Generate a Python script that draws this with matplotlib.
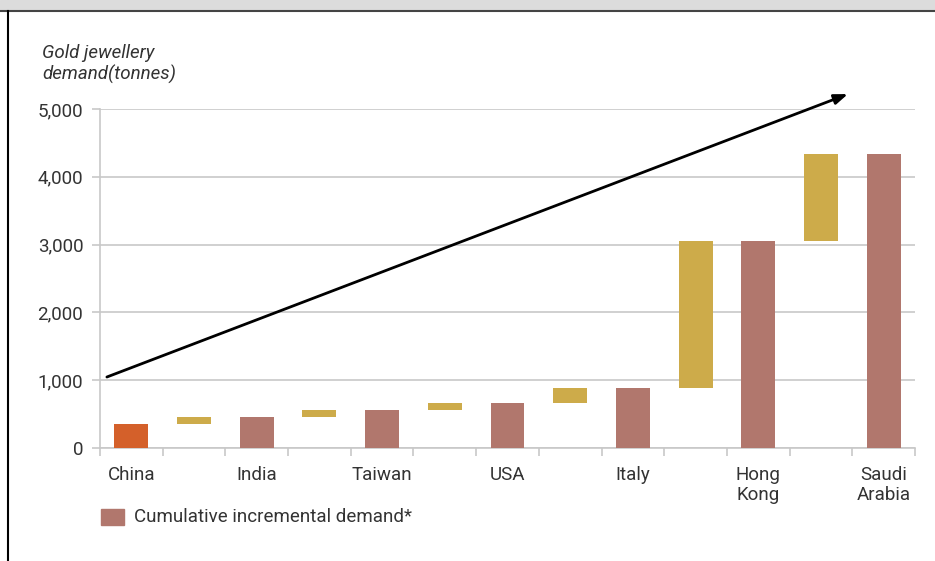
import matplotlib.pyplot as plt
from matplotlib.patches import Rectangle
from matplotlib.lines import Line2D

# cumulative totals after each country (tonnes)
countries = ['China', 'India', 'Taiwan', 'USA', 'Italy', 'Hong\nKong', 'Saudi\nArabia']
cumulative = [350, 450, 555, 660, 885, 3060, 4330]
first_color = '#d4602a'
total_color = '#b1776d'
step_color = '#cdab4a'
grid_color = '#c8c8c8'
text_color = '#333333'

plt.rcParams['font.family'] = ['Roboto', 'DejaVu Sans']

fig = plt.figure(figsize=(9.35, 5.61), dpi=100)
ax = fig.add_axes([100 / 935, 1 - 448 / 561, 815 / 935, (448 - 109) / 561])

# build the waterfall: total bar, then the step to the next total
pos = 0
labels_pos = []
for i, total in enumerate(cumulative):
    ax.bar(pos, total, width=0.54, color=first_color if i == 0 else total_color, zorder=3)
    labels_pos.append(pos)
    pos += 1
    if i < len(cumulative) - 1:
        nxt = cumulative[i + 1]
        ax.bar(pos, nxt - total, bottom=total, width=0.54, color=step_color, zorder=3)
        pos += 1

ax.set_xlim(-0.5, pos - 0.5)
ax.set_ylim(0, 5000)
ax.set_yticks(range(0, 5001, 1000))
ax.set_yticklabels(['{:,}'.format(v) for v in range(0, 5001, 1000)])
ax.yaxis.grid(True, color=grid_color, linewidth=1.2, zorder=0)

ax.set_xticks([p - 0.5 for p in range(pos + 1)])
ax.set_xticklabels([])
ax.set_xticks(labels_pos, minor=True)
ax.set_xticklabels(countries, minor=True, linespacing=1.15)
ax.tick_params(axis='x', which='major', length=6, color=grid_color, width=1.2)
ax.tick_params(axis='x', which='minor', length=0, pad=13, labelsize=13.5, labelcolor=text_color)
ax.tick_params(axis='y', length=6, color=grid_color, width=1.2, pad=6, labelsize=13.5, labelcolor=text_color)

for s in ['top', 'right']:
    ax.spines[s].set_visible(False)
for s in ['left', 'bottom']:
    ax.spines[s].set_color(grid_color)
    ax.spines[s].set_linewidth(1.2)

# trend arrow
ax.annotate('', xy=(11.43, 5220), xytext=(-0.39, 1047), annotation_clip=False,
            arrowprops=dict(arrowstyle='-|>,head_length=0.8,head_width=0.3', color='black', lw=2,
                            shrinkA=0, shrinkB=0), zorder=5)

fig.text(42 / 935, 1 - 64 / 561, 'Gold jewellery\ndemand(tonnes)', style='italic', fontsize=13.5,
         color=text_color, va='center', ha='left', linespacing=1.2)

# legend
fig.patches.append(Rectangle((101 / 935, 1 - 525 / 561), 23 / 935, 16 / 561,
                             transform=fig.transFigure, color=total_color))
fig.text(134 / 935, 1 - 517 / 561, 'Cumulative incremental demand*', fontsize=13.5,
         color=text_color, va='center', ha='left')

# frame
fig.patches.append(Rectangle((0, 1 - 10 / 561), 1, 10 / 561, transform=fig.transFigure,
                             color='#dcdcdc'))
fig.lines.append(Line2D([0, 1], [1 - 11 / 561, 1 - 11 / 561], transform=fig.transFigure,
                        color='#444444', lw=1.5))
fig.lines.append(Line2D([7.5 / 935, 7.5 / 935], [0, 1 - 11 / 561], transform=fig.transFigure,
                        color='black', lw=1.5))

fig.savefig('out.png', dpi=100)
